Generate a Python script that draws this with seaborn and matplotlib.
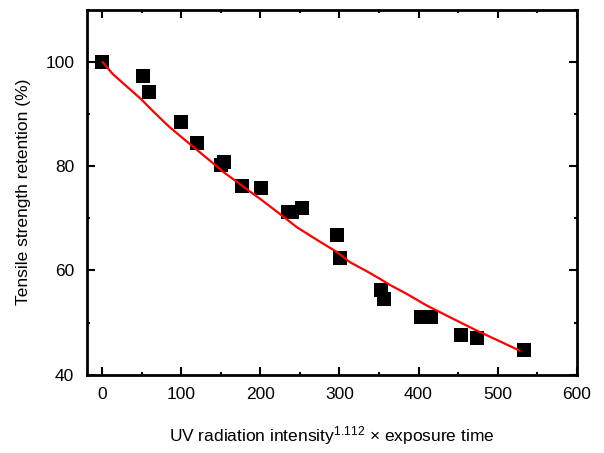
import numpy as np
import pandas as pd
import seaborn as sns
import matplotlib.pyplot as plt
from matplotlib.ticker import MultipleLocator

# measured points (dose vs tensile strength retention)
dose = [0, 51, 59, 99, 120, 150, 154, 177, 201, 235, 240, 253, 297, 301, 352, 356, 403, 416, 454, 474, 533]
retention = [100.0, 97.3, 94.3, 88.4, 84.4, 80.3, 80.8, 76.2, 75.9, 71.3, 71.2, 72.0, 66.8, 62.3, 56.3, 54.5, 51.1, 51.0, 47.7, 47.1, 44.8]

# fitted curve
fit_x = [0, 13, 30, 48, 65, 85, 100, 115, 135, 153, 170, 187, 199, 224, 246, 270, 296, 313, 335, 351, 364, 385, 410, 440, 473, 500, 528]
fit_y = [100.0, 97.7, 95.4, 93.0, 90.4, 87.5, 85.6, 83.7, 81.2, 78.9, 77.0, 75.1, 73.8, 70.9, 68.3, 66.0, 63.6, 61.6, 59.8, 58.4, 57.2, 55.5, 53.3, 51.0, 48.5, 46.6, 44.6]

pts = pd.DataFrame({"dose": dose, "retention": retention})
fit = pd.DataFrame({"dose": fit_x, "retention": fit_y})

sns.set_style("ticks")
plt.rcParams['font.family'] = ['Liberation Sans', 'DejaVu Sans']
plt.rcParams['mathtext.default'] = 'regular'
plt.rcParams['text.color'] = 'black'
plt.rcParams['axes.labelcolor'] = 'black'
plt.rcParams['xtick.color'] = 'black'
plt.rcParams['ytick.color'] = 'black'

fig = plt.figure(figsize=(6.04, 4.53), dpi=100)
ax = fig.add_axes([0.1435, 0.173, 0.811, 0.805])

sns.scatterplot(data=pts, x="dose", y="retention", marker="s", s=95, color="black",
                linewidth=0, ax=ax, zorder=2)
sns.lineplot(data=fit, x="dose", y="retention", color="red", linewidth=1.6, ax=ax, zorder=3)

ax.set_xlim(-20, 600)
ax.set_ylim(40, 110)
ax.xaxis.set_major_locator(MultipleLocator(100))
ax.xaxis.set_minor_locator(MultipleLocator(50))
ax.yaxis.set_major_locator(MultipleLocator(20))
ax.yaxis.set_minor_locator(MultipleLocator(10))

ax.tick_params(which='both', direction='in', top=True, right=True, width=1.5, color='black')
ax.tick_params(which='major', length=5.5, labelsize=12.5, pad=9)
ax.tick_params(which='minor', length=2.5)
for s in ax.spines.values():
    s.set_linewidth(2)
    s.set_color('black')

ax.set_xlabel(r'UV radiation intensity$^{1.112}$ × exposure time', fontsize=12.5, labelpad=16)
ax.set_ylabel('Tensile strength retention (%)', fontsize=12.5, labelpad=10)

fig.savefig("out.png", dpi=100)
